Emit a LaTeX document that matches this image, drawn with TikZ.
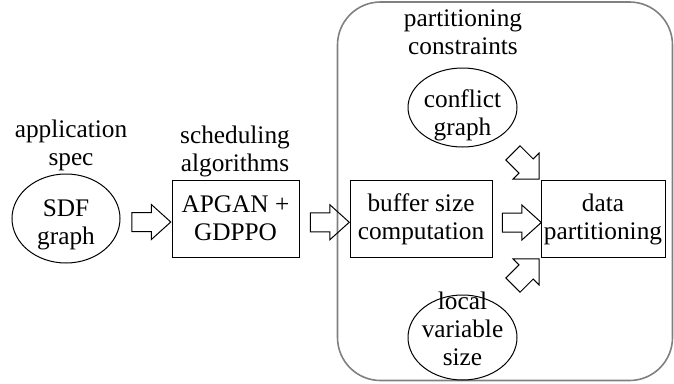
\documentclass[tikz,border=0pt]{standalone}
\usepackage{fontspec}
\setmainfont{Liberation Serif}
\usetikzlibrary{positioning,shapes.geometric,shapes.arrows}

\begin{document}
\begin{tikzpicture}[x=1pt,y=-1pt,
  every node/.style={font=\fontsize{25.3}{28}\selectfont,align=center},
  oval/.style={draw,ellipse,line width=1pt,inner sep=0pt},
  block/.style={draw,rectangle,line width=1pt,inner sep=0pt,minimum height=77pt},
  fatarrow/.style={draw,single arrow,line width=1pt,inner xsep=0pt,inner ysep=9pt,
    minimum height=39pt,minimum width=34pt,single arrow head extend=8pt,
    single arrow tip angle=84},
  diagarrow/.style={fatarrow,minimum height=37pt,minimum width=37pt,
    single arrow tip angle=90}]
  \useasboundingbox (0,0) rectangle (674,383);

  \draw [gray,line width=1.6pt,rounded corners=43pt] (337.5,2) rectangle (672.5,380.5);

  \node (sdf) [oval,minimum width=108pt,minimum height=89pt] at (66,218.5) {};
  \node (sdftext) at (66,225) {SDF\\graph};
  \node (appspec) at (71,145.5) {application\\spec};

  \node (apgan) [block,minimum width=127pt] at (235.5,218.5) {APGAN +\\GDPPO};
  \node (sched) at (235,151.5) {scheduling\\algorithms};

  \node (buffer) [block,minimum width=142pt] at (421,219) {buffer size\\computation};
  \node (datapart) [block,minimum width=124pt] at (603,219) {data\\partitioning};

  \node (conflict) [oval,minimum width=109pt,minimum height=79pt] at (462.5,107.5) {};
  \node (conflicttext) at (462.5,115) {conflict\\graph};
  \node (constr) at (463,32.5) {partitioning\\constraints};

  \node (local) [oval,minimum width=109pt,minimum height=85pt] at (462.5,337.5) {};
  \node (localtext) at (462.5,329) {local\\variable\\size};

  \path (sdf.east) -- node[fatarrow,yshift=-3.5pt] (a1) {} (apgan.west);
  \path (apgan.east) -- node[fatarrow,yshift=-3.5pt] (a2) {} (buffer.west);
  \path (buffer.east) -- node[fatarrow,yshift=-3.5pt] (a3) {} (datapart.west);
  \node (a4) [diagarrow,rotate=-45] at (522.5,162.5) {};
  \node (a5) [diagarrow,rotate=45] at (522.5,275.5) {};
\end{tikzpicture}
\end{document}
